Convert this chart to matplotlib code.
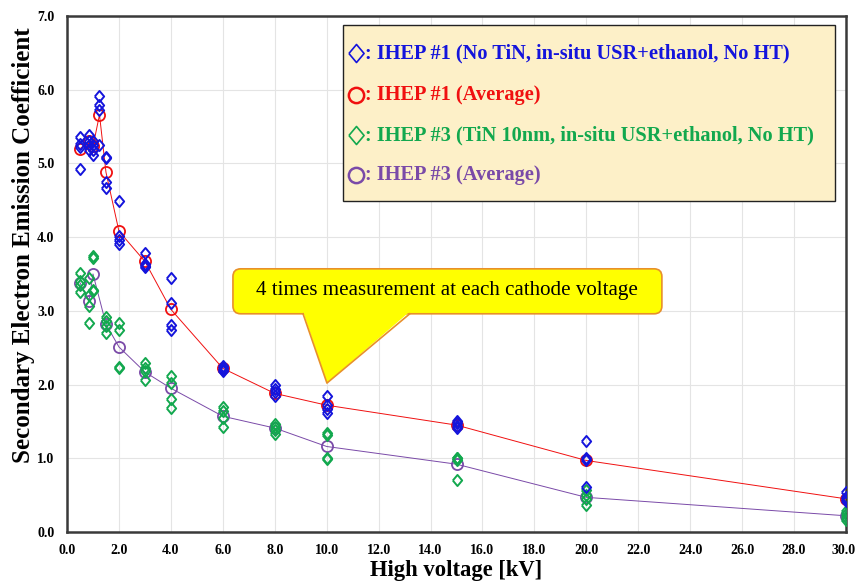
import numpy as np
import matplotlib
matplotlib.use('Agg')
import matplotlib.pyplot as plt
import matplotlib.transforms as mtransforms
from matplotlib.patches import FancyBboxPatch, Polygon, Rectangle

# ---------------- data ----------------
# IHEP #1 : 4 measurements per cathode voltage
v1 = [0.5, 0.85, 1.0, 1.25, 1.5, 2.0, 3.0, 4.0, 6.0, 8.0, 10.0, 15.0, 20.0, 30.0]
sey1 = [
    [5.36, 5.27, 5.22, 4.93],
    [5.39, 5.30, 5.25, 5.18],
    [5.30, 5.25, 5.18, 5.12],
    [5.91, 5.79, 5.73, 5.25],
    [5.09, 5.07, 4.75, 4.66],
    [4.49, 4.01, 3.96, 3.91],
    [3.78, 3.63, 3.61, 3.60],
    [3.44, 3.10, 2.81, 2.74],
    [2.25, 2.22, 2.20, 2.19],
    [1.99, 1.94, 1.90, 1.84],
    [1.85, 1.72, 1.67, 1.61],
    [1.51, 1.48, 1.44, 1.41],
    [1.23, 1.00, 0.98, 0.61],
    [0.54, 0.48, 0.45, 0.42],
]
avg1 = [5.20, 5.30, 5.23, 5.66, 4.88, 4.08, 3.67, 3.02, 2.22, 1.88, 1.72, 1.45, 0.97, 0.45]

# IHEP #3
v3 = [0.5, 0.85, 1.0, 1.5, 2.0, 3.0, 4.0, 6.0, 8.0, 10.0, 15.0, 20.0, 30.0]
sey3 = [
    [3.51, 3.40, 3.35, 3.26],
    [3.45, 3.22, 3.06, 2.84],
    [3.74, 3.72, 3.28, 3.27],
    [2.91, 2.86, 2.79, 2.70],
    [2.83, 2.74, 2.24, 2.22],
    [2.29, 2.22, 2.18, 2.06],
    [2.12, 2.02, 1.81, 1.68],
    [1.70, 1.64, 1.54, 1.43],
    [1.47, 1.42, 1.38, 1.33],
    [1.34, 1.32, 1.00, 0.99],
    [1.00, 0.98, 1.00, 0.70],
    [0.57, 0.50, 0.45, 0.36],
    [0.28, 0.24, 0.20, 0.16],
]
avg3 = [3.38, 3.14, 3.50, 2.82, 2.51, 2.17, 1.95, 1.57, 1.41, 1.16, 0.92, 0.47, 0.22]

legend_labels = [': IHEP #1 (No TiN, in-situ USR+ethanol, No HT)',
                 ': IHEP #1 (Average)',
                 ': IHEP #3 (TiN 10nm, in-situ USR+ethanol, No HT)',
                 ': IHEP #3 (Average)']
callout_text = '4 times measurement at each cathode voltage'

BLUE = '#1414dc'
RED = '#f01010'
GREEN = '#12a84e'
PURPLE = '#7a4aa8'

# diamond a bit taller than wide, like the picture
diamond = [(-0.42, 0), (0, 0.5), (0.42, 0), (0, -0.5), (-0.42, 0)]

plt.rcParams['font.family'] = ['Liberation Serif', 'DejaVu Serif']

fig = plt.figure(figsize=(8.56, 5.85), dpi=100)
ax = fig.add_axes([0.0783, 0.0906, 0.9100, 0.8821])

# averages with connecting lines
ax.plot(v1, avg1, '-', color=RED, lw=0.7, zorder=3)
ax.plot(v3, avg3, '-', color=PURPLE, lw=0.7, zorder=3)
ax.plot(v1, avg1, 'o', ms=8, mfc='none', mec=RED, mew=1.3, zorder=3)
ax.plot(v3, avg3, 'o', ms=8, mfc='none', mec=PURPLE, mew=1.3, zorder=3)

# individual measurements
x3 = np.repeat(v3, 4)
y3 = np.array(sey3).ravel()
ax.plot(x3, y3, ls='none', marker=diamond, ms=8, mfc='none', mec=GREEN, mew=1.4, zorder=4)
x1 = np.repeat(v1, 4)
y1 = np.array(sey1).ravel()
ax.plot(x1, y1, ls='none', marker=diamond, ms=8, mfc='none', mec=BLUE, mew=1.4, zorder=5)

ax.set_xlim(0, 30)
ax.set_ylim(0, 7)
ax.set_xticks(np.arange(0, 31, 2))
ax.set_yticks(np.arange(0, 8, 1))
ax.xaxis.set_major_formatter(matplotlib.ticker.FormatStrFormatter('%.1f'))
ax.yaxis.set_major_formatter(matplotlib.ticker.FormatStrFormatter('%.1f'))
ax.tick_params(length=0, labelsize=10, pad=9)
for lab in ax.get_xticklabels() + ax.get_yticklabels():
    lab.set_fontweight('bold')
# last x label sits on the figure edge, keep it inside
last = ax.get_xticklabels()[-1]
last.set_horizontalalignment('right')
last.set_transform(last.get_transform() + mtransforms.ScaledTranslation(0.10, 0, fig.dpi_scale_trans))
ax.grid(True, color='#e4e4e4', lw=0.8)
ax.set_axisbelow(True)
for s in ax.spines.values():
    s.set_color('#3a3a3a')
    s.set_linewidth(1.8)

ax.set_xlabel('High voltage [kV]', fontsize=16.3, fontweight='bold', labelpad=2)
ax.set_ylabel('Secondary Electron Emission Coefficient', fontsize=18, fontweight='bold')
ax.yaxis.set_label_coords(-0.041, 0.556)

# callout box
box = FancyBboxPatch((6.39, 2.96), 16.52, 0.61,
                     boxstyle='round,pad=0,rounding_size=0.3', mutation_aspect=0.353,
                     fc='#ffff00', ec='#e8902a', lw=1.2, zorder=6)
ax.add_patch(box)
tip = Polygon([(9.09, 2.99), (10.01, 2.02), (13.2, 2.99)], closed=True,
              fc='#ffff00', ec='none', zorder=7)
ax.add_patch(tip)
ax.plot([9.09, 10.01, 13.2], [2.96, 2.02, 2.96], color='#e8902a', lw=1.2, zorder=7)
ax.text(14.63, 3.27, callout_text, fontsize=15.1, ha='center', va='center', zorder=8)

# legend box drawn by hand
ax.add_patch(Rectangle((0.3543, 0.6415), 0.6316, 0.3411, transform=ax.transAxes,
                       fc='#fdf0c8', ec='#222222', lw=1.0, zorder=6))
rows = [0.928, 0.847, 0.769, 0.692]
markers = [diamond, 'o', diamond, 'o']
colors = [BLUE, RED, GREEN, PURPLE]
for yy, m, c, lab in zip(rows, markers, colors, legend_labels):
    ax.plot([0.371], [yy], ls='none', marker=m, ms=13 if m is diamond else 11,
            mfc='none', mec=c, mew=1.2 if m is diamond else 1.8,
            transform=ax.transAxes, zorder=7)
    ax.text(0.382, yy, lab, color=c, fontsize=14.7, fontweight='bold',
            va='center', ha='left', transform=ax.transAxes, zorder=7)

plt.savefig('out.png', dpi=100)
